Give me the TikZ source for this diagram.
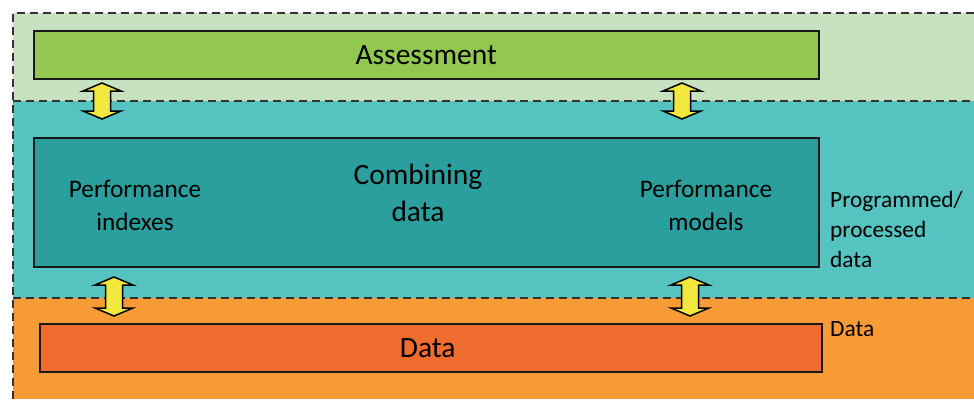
\documentclass[tikz,border=0pt]{standalone}
\usepackage{fontspec}
\setmainfont{Carlito}
\begin{document}
\begin{tikzpicture}[x=1pt,y=-1pt,
  sep/.style={draw=black!80, line width=1.5pt, dash pattern=on 8pt off 5pt},
  layerbox/.style={draw=black!90, line width=1.5pt, inner sep=0pt, anchor=north west},
  bigtxt/.style={font=\fontsize{29.5}{37}\selectfont, align=center, inner sep=0pt},
  midtxt/.style={font=\fontsize{25.3}{33}\selectfont, align=center, inner sep=0pt},
  sidetxt/.style={font=\fontsize{23.4}{30}\selectfont, align=left, inner sep=0pt, anchor=west},
  updown/.style={fill=arrowyellow, draw=black, line width=1.5pt, line join=miter},
  updown arrow/.pic={
    \path[updown] (0,-#1) -- (19,-#1+8) -- (8.5,-#1+8) -- (8.5,#1-8) -- (19,#1-8)
      -- (0,#1) -- (-19,#1-8) -- (-8.5,#1-8) -- (-8.5,-#1+8) -- (-19,-#1+8) -- cycle;
  }]
\definecolor{lightgreen}{HTML}{C6E2C0}
\definecolor{assessgreen}{HTML}{92C850}
\definecolor{tealband}{HTML}{55C3C0}
\definecolor{tealbox}{HTML}{2A9F9D}
\definecolor{orangeband}{HTML}{F89B37}
\definecolor{databox}{HTML}{F06D30}
\definecolor{arrowyellow}{HTML}{F0E83C}

\useasboundingbox (0,0) rectangle (974,399);
\fill[white] (0,0) rectangle (974,399);

% three horizontal layers
\fill[lightgreen] (13,13) rectangle (974,101);
\fill[tealband] (13,101) rectangle (974,298);
\fill[orangeband] (13,298) rectangle (974,399);

% dashed outline and separators
\draw[sep] (974,13) -- (13,13) -- (13,399);
\draw[sep] (13,101) -- (974,101);
\draw[sep] (13,298) -- (974,298);

% layer boxes
\node[layerbox, fill=assessgreen, minimum width=785pt, minimum height=48pt] (assess) at (33,30) {};
\node[bigtxt] (assesstxt) at (assess.center) {Assessment};

\node[layerbox, fill=tealbox, minimum width=785pt, minimum height=129pt] (combine) at (33,137) {};
\node[bigtxt] (combinetxt) at (418,193) {Combining\\data};
\node[midtxt] (pindex) at (135,205) {Performance\\indexes};
\node[midtxt] (pmodel) at (706,205) {Performance\\models};

\node[layerbox, fill=databox, minimum width=782pt, minimum height=48pt] (data) at (39,323) {};
\node[bigtxt] (datatxt) at ([xshift=-3pt]data.center) {Data};

% side labels
\node[sidetxt] (proclabel) at (830,229) {Programmed/\\processed\\data};
\node[sidetxt] (datalabel) at (830,329) {Data};

% double arrows between the layers
\pic at (102,101) {updown arrow=18};
\pic at (682,101) {updown arrow=18};
\pic at (114,296.5) {updown arrow=19.5};
\pic at (690,296.5) {updown arrow=19.5};
\end{tikzpicture}
\end{document}
